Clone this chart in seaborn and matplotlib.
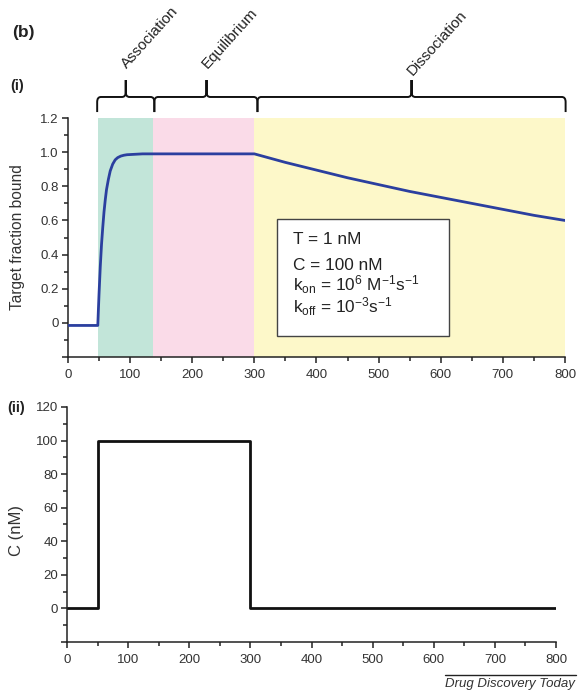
import numpy as np
import pandas as pd
import matplotlib
matplotlib.use("Agg")
import matplotlib.pyplot as plt
import matplotlib.transforms as mtransforms
from matplotlib.path import Path
from matplotlib.patches import PathPatch, Rectangle
from matplotlib.lines import Line2D
from matplotlib.ticker import MultipleLocator, FuncFormatter
import seaborn as sns

# Target fraction bound over time (s)
time_bound = [0, 48, 49, 50, 51, 52, 54, 56, 58, 60, 62, 65, 68, 72, 76, 80, 85,
              90, 95, 100, 110, 120, 137, 200, 300, 350, 400, 450, 500, 550, 600,
              650, 700, 750, 800]
fraction_bound = [-0.015, -0.015, 0.08, 0.17, 0.25, 0.33, 0.46, 0.56, 0.65, 0.72,
                  0.78, 0.84, 0.89, 0.93, 0.955, 0.968, 0.977, 0.982, 0.985, 0.986,
                  0.988, 0.99, 0.99, 0.99, 0.99, 0.94, 0.895, 0.85, 0.81, 0.77,
                  0.735, 0.70, 0.665, 0.63, 0.60]

# Compound concentration pulse (nM)
time_conc = [0, 50, 50, 300, 300, 800]
conc_nM = [0, 0, 100, 100, 0, 0]

# Kinetic phases (s)
phase_names = ["Association", "Equilibrium", "Dissociation"]
phase_starts = [48, 137, 300]
phase_ends = [137, 300, 800]
phase_colors = ["#c2e5d9", "#fadbe8", "#fdf8c9"]
brace_starts = [47, 139, 305]
brace_ends = [139, 305, 801]
brace_peaks = [93, 223, 553]

param_lines = ["T = 1 nM",
               "C = 100 nM",
               r"k$_{\mathrm{on}}$ = 10$^{6}$ M$^{-1}$s$^{-1}$",
               r"k$_{\mathrm{off}}$ = 10$^{-3}$s$^{-1}$"]
param_baselines = [0.46, 0.312, 0.186, 0.057]

sns.set_style("ticks")
plt.rcParams["font.family"] = ["Liberation Sans", "DejaVu Sans"]
plt.rcParams["mathtext.fontset"] = "custom"
plt.rcParams["mathtext.rm"] = "Liberation Sans"
plt.rcParams["mathtext.it"] = "Liberation Sans:italic"
plt.rcParams["mathtext.bf"] = "Liberation Sans:bold"
plt.rcParams["axes.unicode_minus"] = True

TXT = "#333333"
AX = "#222222"

fig = plt.figure(figsize=(5.79, 6.93), dpi=100)
ax1 = fig.add_axes([0.1174, 0.4848, 0.8584, 0.3449])
ax2 = fig.add_axes([0.1157, 0.0736, 0.8446, 0.3391])


def style_axis(ax):
    for s in ("top", "right"):
        ax.spines[s].set_visible(False)
    for s in ("left", "bottom"):
        ax.spines[s].set_linewidth(1.1)
        ax.spines[s].set_color(AX)
    ax.tick_params(which="major", length=4.5, width=1.1, color=AX, pad=2,
                   labelsize=9.5, labelcolor=TXT)
    ax.tick_params(axis="x", which="major", pad=4)
    ax.tick_params(which="minor", length=3, width=1.1, color=AX)
    ax.xaxis.set_major_locator(MultipleLocator(100))
    ax.xaxis.set_minor_locator(MultipleLocator(50))
    ax.set_xlabel("")
    ax.set_ylabel("")


# ---- (i) target occupancy ----
for x0, x1, c in zip(phase_starts, phase_ends, phase_colors):
    ax1.axvspan(x0, x1, color=c, lw=0, zorder=0)

df_bound = pd.DataFrame({"time": time_bound, "fraction": fraction_bound})
sns.lineplot(data=df_bound, x="time", y="fraction", ax=ax1, color="#2b3f9f",
             lw=2.0, sort=False, estimator=None, zorder=3)
ax1.set_xlim(0, 800)
ax1.set_ylim(-0.2, 1.2)
style_axis(ax1)
ax1.yaxis.set_major_locator(MultipleLocator(0.2))
ax1.yaxis.set_minor_locator(MultipleLocator(0.1))


def frac_fmt(v, pos):
    if v < -0.05:
        return ""
    if abs(v) < 1e-9:
        return "0"
    return f"{v:.1f}"


ax1.yaxis.set_major_formatter(FuncFormatter(frac_fmt))

# parameter box
ax1.add_patch(Rectangle((336, -0.076), 277, 0.686, facecolor="white",
                        edgecolor="#444444", lw=1.0, zorder=4))
for txt, yb in zip(param_lines, param_baselines):
    ax1.text(362, yb, txt, fontsize=12.4, color="#222222", va="baseline",
             ha="left", zorder=5)

# curly braces and phase labels above the panel
trans = mtransforms.blended_transform_factory(ax1.transData, ax1.transAxes)
y_h, y_end, y_peak, d = 1.088, 1.025, 1.159, 0.021
c = 6.0
label_dy = [0.045, 0.045, 0.015]
for x0, x1, xm, name, dy in zip(brace_starts, brace_ends, brace_peaks,
                                phase_names, label_dy):
    verts = [(x0, y_end), (x0, y_h - d), (x0, y_h), (x0 + c, y_h),
             (xm - c, y_h), (xm, y_h), (xm, y_h + d), (xm, y_peak),
             (xm, y_h + d), (xm, y_h), (xm + c, y_h),
             (x1 - c, y_h), (x1, y_h), (x1, y_h - d), (x1, y_end)]
    codes = [Path.MOVETO, Path.LINETO, Path.CURVE3, Path.CURVE3,
             Path.LINETO, Path.CURVE3, Path.CURVE3, Path.LINETO,
             Path.LINETO, Path.CURVE3, Path.CURVE3,
             Path.LINETO, Path.CURVE3, Path.CURVE3, Path.LINETO]
    ax1.add_patch(PathPatch(Path(verts, codes), transform=trans, fill=False,
                            lw=1.4, edgecolor="#111111", clip_on=False,
                            capstyle="butt", joinstyle="miter"))
    ax1.text(xm + 2, y_peak + dy, name, transform=trans, rotation=48,
             rotation_mode="anchor", ha="left", va="baseline", fontsize=11,
             color="#222222", clip_on=False)

# ---- (ii) concentration pulse ----
df_conc = pd.DataFrame({"time": time_conc, "conc": conc_nM})
sns.lineplot(data=df_conc, x="time", y="conc", ax=ax2, color="#111111",
             lw=2.0, sort=False, estimator=None)
ax2.set_xlim(0, 800)
ax2.set_ylim(-20, 120)
style_axis(ax2)
ax2.yaxis.set_major_locator(MultipleLocator(20))
ax2.yaxis.set_minor_locator(MultipleLocator(10))
ax2.yaxis.set_major_formatter(FuncFormatter(lambda v, p: "" if v < 0 else f"{v:.0f}"))

# axis titles and panel tags
fig.text(18 / 579, 1 - 237 / 693, "Target fraction bound", rotation=90,
         ha="center", va="center", fontsize=11.2, color=TXT)
fig.text(17 / 579, 1 - 530 / 693, "C (nM)", rotation=90,
         ha="center", va="center", fontsize=12, color=TXT)
fig.text(12 / 579, 1 - 33 / 693, "(b)", fontsize=12.5, fontweight="bold",
         ha="left", va="center", color="#222222")
fig.text(10 / 579, 1 - 86 / 693, "(i)", fontsize=10.5, fontweight="bold",
         ha="left", va="center", color="#222222")
fig.text(7 / 579, 1 - 408 / 693, "(ii)", fontsize=10.5, fontweight="bold",
         ha="left", va="center", color="#222222")

# journal footer
fig.add_artist(Line2D([445 / 579, 576 / 579], [1 - 675 / 693] * 2,
                      transform=fig.transFigure, color="#222222", lw=1.0))
fig.text(575 / 579, 1 - 684 / 693, "Drug Discovery Today", fontsize=9.5,
         style="italic", ha="right", va="center", color="#333333")

fig.savefig("out.png", dpi=100)
